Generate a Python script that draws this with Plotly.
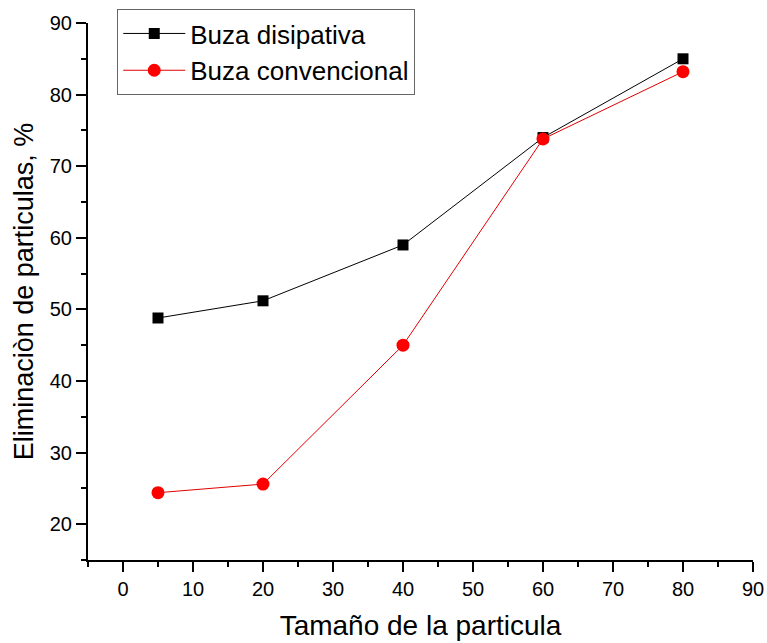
import plotly.graph_objects as go

x_vals = [5, 20, 40, 60, 80]
disipativa = [48.8, 51.2, 59.0, 74.0, 85.0]
convencional = [24.4, 25.6, 45.0, 73.8, 83.2]

fig = go.Figure()
fig.add_trace(go.Scatter(x=x_vals, y=disipativa, mode="lines+markers", name="Buza disipativa",
                         line=dict(color="black", width=1),
                         marker=dict(symbol="square", size=11, color="black")))
fig.add_trace(go.Scatter(x=x_vals, y=convencional, mode="lines+markers", name="Buza convencional",
                         line=dict(color="#e00000", width=1),
                         marker=dict(symbol="circle", size=13, color="#ff0000")))

font = "Arial, Liberation Sans, sans-serif"
axis_common = dict(showline=True, linecolor="black", linewidth=2, ticks="outside",
                   ticklen=10, tickwidth=2, tickcolor="black", showgrid=False, zeroline=False,
                   automargin=False,
                   tickfont=dict(size=20, color="black", family=font))
fig.update_xaxes(range=[-5, 90], dtick=10, tick0=0, title_text="Tamaño de la particula",
                 title_font=dict(size=28, color="black", family=font),
                 minor=dict(dtick=5, tick0=0, ticks="outside", ticklen=5, tickwidth=2, tickcolor="black"),
                 title_standoff=16, **axis_common)
fig.update_yaxes(range=[15, 90], dtick=10, tick0=0, title_text="Eliminaciòn de particulas, %",
                 title_font=dict(size=27, color="black", family=font),
                 minor=dict(dtick=5, tick0=0, ticks="outside", ticklen=5, tickwidth=2, tickcolor="black"),
                 title_standoff=8, **axis_common)
fig.update_layout(width=767, height=643, margin=dict(l=88, r=14, t=23, b=83, autoexpand=False),
                  plot_bgcolor="white", paper_bgcolor="white",
                  font=dict(family=font, color="black"),
                  legend=dict(x=0.044, y=1.026, xanchor="left", yanchor="top",
                              bordercolor="#666", borderwidth=1, bgcolor="white",
                              font=dict(size=26, family=font, color="black"),
                              tracegroupgap=0, itemwidth=62))
fig.write_html("out.html", config={"displayModeBar": False},
               post_script="document.body.style.margin='0';"
                           "document.body.style.overflow='hidden';"
                           "document.documentElement.style.overflow='hidden';")
